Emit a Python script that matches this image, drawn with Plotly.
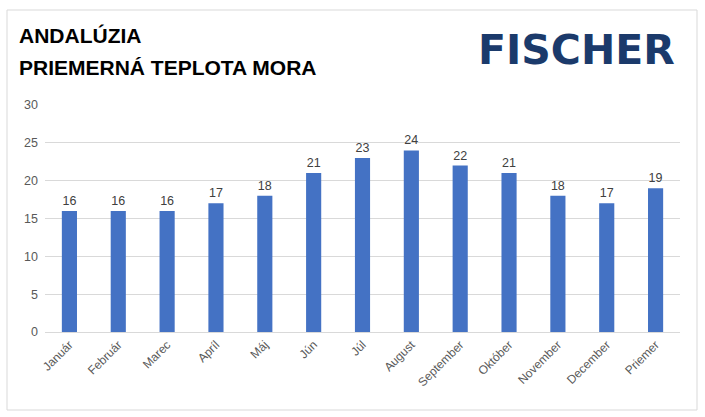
import plotly.graph_objects as go

months = ["Január", "Február", "Marec", "Apríl", "Máj", "Jún", "Júl", "August",
          "September", "Október", "November", "December", "Priemer"]
temps = [16, 16, 16, 17, 18, 21, 23, 24, 22, 21, 18, 17, 19]
title_lines = ["ANDALÚZIA", "PRIEMERNÁ TEPLOTA MORA"]
logo_text = "FISCHER"

W, H = 705, 417
L, R, T, B = 45, 25, 105, 85
pw, ph = W - L - R, H - T - B

def px(x):
    return (x - L) / pw

def py(y):
    return (H - B - y) / ph

fig = go.Figure(go.Bar(
    x=months, y=temps,
    marker=dict(color="#4472C4", line=dict(width=0)),
    text=temps, textposition="outside",
    textfont=dict(family="Liberation Sans, Arial", size=12.5, color="#404040"),
    cliponaxis=False,
))

fig.update_layout(
    width=W, height=H,
    margin=dict(l=L, r=R, t=T, b=B),
    paper_bgcolor="white", plot_bgcolor="white",
    bargap=0.69,
    showlegend=False,
    xaxis=dict(tickangle=-45, tickfont=dict(family="Liberation Sans, Arial", size=12, color="#595959"),
               showgrid=False, showline=True, linecolor="#d9d9d9", ticks=""),
    yaxis=dict(range=[0, 30], dtick=5, showgrid=True, gridcolor="#d9d9d9", zeroline=False,
               tickfont=dict(family="Liberation Sans, Arial", size=12.5, color="#595959"),
               ticklabelstandoff=6),
    shapes=[dict(type="rect", xref="paper", yref="paper",
                 x0=px(7), x1=px(697), y0=py(410), y1=py(10),
                 line=dict(color="#d9d9d9", width=1))],
    annotations=[
        dict(text=title_lines[0], xref="paper", yref="paper", x=px(17), y=py(35),
             xanchor="left", yanchor="middle", showarrow=False,
             font=dict(family="Liberation Sans", size=21, color="black", weight="bold")),
        dict(text=title_lines[1], xref="paper", yref="paper", x=px(17), y=py(67),
             xanchor="left", yanchor="middle", showarrow=False,
             font=dict(family="Liberation Sans", size=21, color="black", weight="bold")),
        dict(text=logo_text, xref="paper", yref="paper", x=px(576), y=py(50),
             xanchor="center", yanchor="middle", showarrow=False,
             font=dict(family="DejaVu Sans", size=41, color="#1B3A6B", weight="bold")),
    ],
)

fig.write_html("out.html", config={"displayModeBar": False},
               post_script="document.body.style.margin='0';")
